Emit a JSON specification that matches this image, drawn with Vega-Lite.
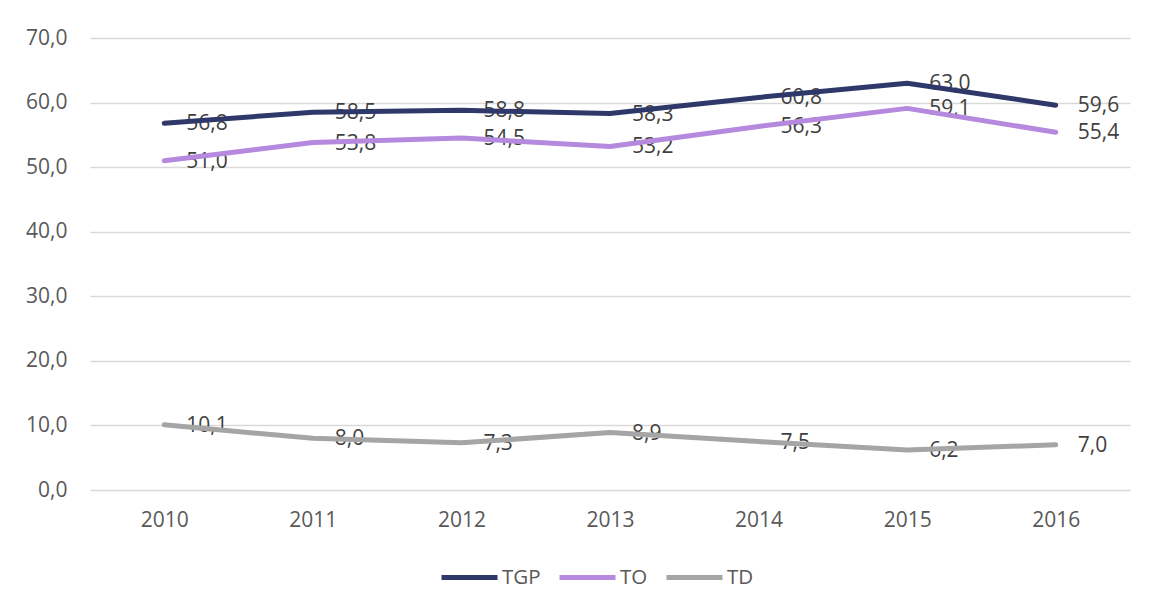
{
  "$schema": "https://vega.github.io/schema/vega-lite/v6.json",
  "width": 1040,
  "height": 452,
  "autosize": {"type": "none"},
  "padding": {"left": 90, "top": 38, "right": 45, "bottom": 119},
  "background": "white",
  "config": {
    "view": {"stroke": null},
    "font": "Open Sans",
    "locale": {
      "number": {"decimal": ",", "thousands": ".", "grouping": [3], "currency": ["", " €"]}
    }
  },
  "data": {
    "values": [
      {"year": "2010", "series": "TGP", "value": 56.8},
      {"year": "2011", "series": "TGP", "value": 58.5},
      {"year": "2012", "series": "TGP", "value": 58.8},
      {"year": "2013", "series": "TGP", "value": 58.3},
      {"year": "2014", "series": "TGP", "value": 60.8},
      {"year": "2015", "series": "TGP", "value": 63.0},
      {"year": "2016", "series": "TGP", "value": 59.6},
      {"year": "2010", "series": "TO", "value": 51.0},
      {"year": "2011", "series": "TO", "value": 53.8},
      {"year": "2012", "series": "TO", "value": 54.5},
      {"year": "2013", "series": "TO", "value": 53.2},
      {"year": "2014", "series": "TO", "value": 56.3},
      {"year": "2015", "series": "TO", "value": 59.1},
      {"year": "2016", "series": "TO", "value": 55.4},
      {"year": "2010", "series": "TD", "value": 10.1},
      {"year": "2011", "series": "TD", "value": 8.0},
      {"year": "2012", "series": "TD", "value": 7.3},
      {"year": "2013", "series": "TD", "value": 8.9},
      {"year": "2014", "series": "TD", "value": 7.5},
      {"year": "2015", "series": "TD", "value": 6.2},
      {"year": "2016", "series": "TD", "value": 7.0}
    ]
  },
  "encoding": {
    "x": {
      "field": "year",
      "type": "ordinal",
      "scale": {"type": "point", "padding": 0.5},
      "axis": {
        "title": null,
        "labelAngle": 0,
        "domain": false,
        "ticks": false,
        "grid": false,
        "labelFont": "Open Sans",
        "labelFontSize": 21,
        "labelColor": "#595959",
        "labelPadding": 19
      }
    },
    "y": {
      "field": "value",
      "type": "quantitative",
      "scale": {"domain": [0, 70]},
      "axis": {
        "title": null,
        "values": [0, 10, 20, 30, 40, 50, 60, 70],
        "format": ".1f",
        "domain": false,
        "ticks": false,
        "grid": true,
        "gridColor": "#D9D9D9",
        "gridWidth": 1.5,
        "labelFont": "Open Sans",
        "labelFontSize": 21,
        "labelColor": "#595959",
        "labelPadding": 23
      }
    },
    "color": {
      "field": "series",
      "type": "nominal",
      "scale": {"domain": ["TGP", "TO", "TD"], "range": ["#2E3869", "#B589DD", "#A5A5A5"]},
      "legend": {
        "title": null,
        "orient": "none",
        "direction": "horizontal",
        "legendX": 349,
        "legendY": 509,
        "symbolType": "stroke",
        "symbolSize": 3136,
        "symbolStrokeWidth": 5,
        "labelFont": "Open Sans",
        "labelFontSize": 20.5,
        "labelColor": "#595959",
        "labelOffset": 2,
        "columnPadding": 8
      }
    }
  },
  "layer": [
    {
      "mark": {"type": "text", "align": "left", "baseline": "middle", "dx": 22, "dy": 1, "fontSize": 21, "font": "Open Sans", "color": "#404040"},
      "encoding": {
        "text": {"field": "value", "type": "quantitative", "format": ".1f"},
        "color": {"value": "#404040"}
      }
    },
    {
      "mark": {"type": "line", "strokeWidth": 5, "strokeCap": "round", "strokeJoin": "round"}
    }
  ]
}
